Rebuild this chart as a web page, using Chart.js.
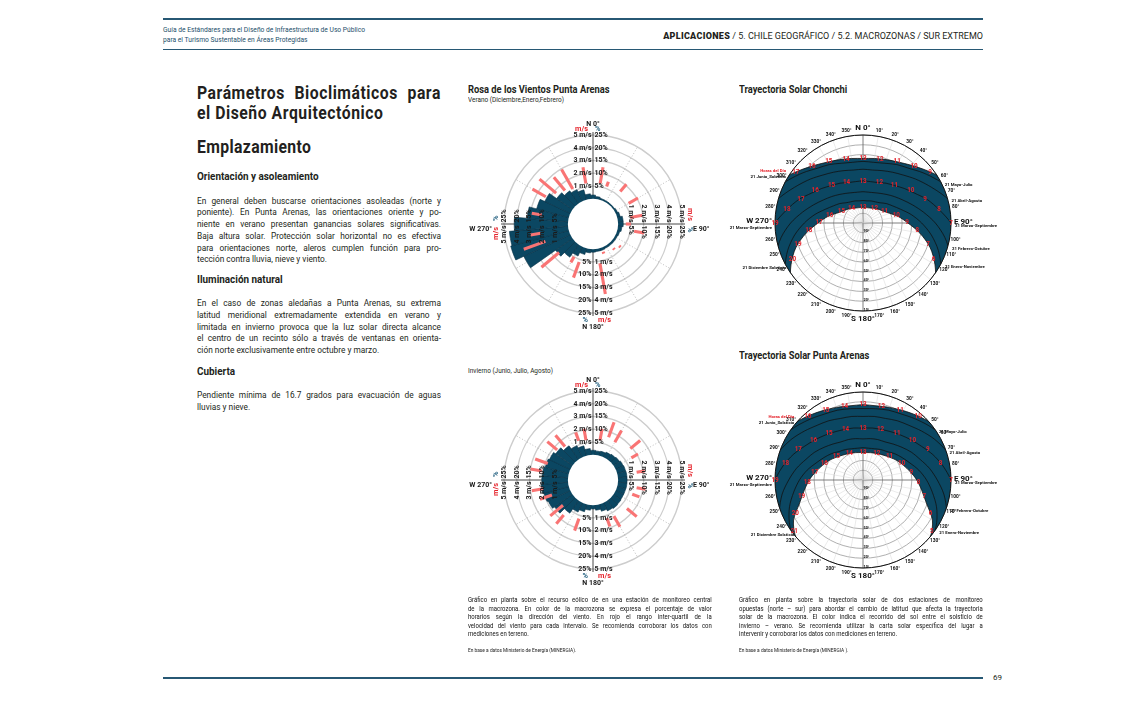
<!DOCTYPE html>
<html lang="es"><head><meta charset="utf-8">
<title>Parámetros Bioclimáticos - Sur Extremo</title>
<script src="https://cdn.jsdelivr.net/npm/chart.js@4.4.1/dist/chart.umd.min.js"></script>
<style>
body{margin:0;background:#fff;}
#page{position:relative;width:1133px;height:720px;overflow:hidden;font-family:Roboto,"Open Sans",sans-serif;color:#231f20;}
.rule{position:absolute;left:163px;width:820px;height:1.5px;background:#275874;}
.a{position:absolute;white-space:nowrap;}
.lc{position:absolute;left:197px;width:287px;transform:scaleX(0.85);transform-origin:0 0;}
.cap{position:absolute;width:277px;transform:scaleX(0.88);transform-origin:0 0;font-size:6.8px;line-height:8.6px;color:#111;}
.j div{text-align:justify;text-align-last:justify;}
.j div.l{text-align-last:left;}
.h{font-weight:700;}
.sp{display:flex;justify-content:space-between;white-space:nowrap;}
canvas{position:absolute;}
</style></head><body><div id="page">

<div class="rule" style="top:18px"></div>
<div class="rule" style="top:48.5px;height:1px"></div>
<div class="rule" style="top:677px"></div>

<div class="a" style="left:163px;top:26px;font-size:6.7px;line-height:9.5px;color:#244f6b;">Guía de Estándares para el Diseño de Infraestructura de Uso Público<br>para el Turismo Sustentable en Áreas Protegidas</div>
<div class="a" style="right:150px;top:31px;font-size:9px;line-height:10px;color:#231f20;"><b style="font-weight:900;letter-spacing:0.3px">APLICACIONES</b> / 5. CHILE GEOGRÁFICO / 5.2. MACROZONAS / SUR EXTREMO</div>
<div class="a" style="left:993px;top:673px;font-size:8px;color:#231f20;">69</div>

<!-- left column -->
<div class="a h" style="left:197px;top:83px;width:271px;font-size:17.5px;line-height:20px;letter-spacing:0.6px;transform:scaleX(0.9);transform-origin:0 0;">
  <div class="sp"><span>Parámetros</span><span>Bioclimáticos</span><span>para</span></div>
  <div>el Diseño Arquitectónico</div>
</div>
<div class="a h" style="left:197px;top:137px;font-size:17.5px;line-height:20px;letter-spacing:0.4px;transform:scaleX(0.9);transform-origin:0 0;">Emplazamiento</div>
<div class="a h" style="left:197px;top:170px;font-size:11px;line-height:14px;transform:scaleX(0.9);transform-origin:0 0;">Orientación y asoleamiento</div>
<div class="lc j" style="top:194.5px;font-size:9.8px;line-height:11.8px;">
  <div>En general deben buscarse orientaciones asoleadas (norte y</div>
  <div>poniente). En Punta Arenas, las orientaciones oriente y po-</div>
  <div>niente en verano presentan ganancias solares significativas.</div>
  <div>Baja altura solar. Protección solar horizontal no es efectiva</div>
  <div>para orientaciones norte, aleros cumplen función para pro-</div>
  <div class="l">tección contra lluvia, nieve y viento.</div>
</div>
<div class="a h" style="left:197px;top:273px;font-size:11px;line-height:14px;transform:scaleX(0.9);transform-origin:0 0;">Iluminación natural</div>
<div class="lc j" style="top:297px;font-size:9.8px;line-height:11.8px;">
  <div>En el caso de zonas aledañas a Punta Arenas, su extrema</div>
  <div>latitud meridional extremadamente extendida en verano y</div>
  <div>limitada en invierno provoca que la luz solar directa alcance</div>
  <div>el centro de un recinto sólo a través de ventanas en orienta-</div>
  <div class="l">ción norte exclusivamente entre octubre y marzo.</div>
</div>
<div class="a h" style="left:197px;top:365px;font-size:11px;line-height:14px;transform:scaleX(0.9);transform-origin:0 0;">Cubierta</div>
<div class="lc j" style="top:389px;font-size:9.8px;line-height:11.8px;">
  <div>Pendiente mínima de 16.7 grados para evacuación de aguas</div>
  <div class="l">lluvias y nieve.</div>
</div>

<!-- chart titles -->
<div class="a h" style="left:468px;top:84px;font-size:10.6px;line-height:12px;transform:scaleX(0.88);transform-origin:0 0;">Rosa de los Vientos Punta Arenas</div>
<div class="a" style="left:468px;top:96px;font-size:7px;line-height:8px;transform:scaleX(0.92);transform-origin:0 0;">Verano (Diciembre,Enero,Febrero)</div>
<div class="a" style="left:468px;top:367px;font-size:7px;line-height:8px;transform:scaleX(0.92);transform-origin:0 0;">Invierno (Junio, Julio, Agosto)</div>
<div class="a h" style="left:739px;top:84px;font-size:10.6px;line-height:12px;transform:scaleX(0.88);transform-origin:0 0;">Trayectoria Solar Chonchi</div>
<div class="a h" style="left:739px;top:350px;font-size:10.6px;line-height:12px;transform:scaleX(0.88);transform-origin:0 0;">Trayectoria Solar Punta Arenas</div>

<canvas id="roseSummer" width="280" height="250" style="left:453px;top:99px"></canvas>
<canvas id="roseWinter" width="280" height="250" style="left:453px;top:355px"></canvas>
<canvas id="sunChonchi" width="270" height="240" style="left:728px;top:103px"></canvas>
<canvas id="sunPunta" width="270" height="240" style="left:728px;top:360px"></canvas>

<!-- captions -->
<div class="cap j" style="left:468px;top:596px;">
  <div>Gráfico en planta sobre el recurso eólico de en una estación de monitoreo central</div>
  <div>de la macrozona. En color de la macrozona se expresa el porcentaje de valor</div>
  <div>horarios según la dirección del viento. En rojo el rango inter-quartil de la</div>
  <div>velocidad del viento para cada intervalo. Se recomienda corroborar los datos con</div>
  <div class="l">mediciones en terreno.</div>
</div>
<div class="a" style="left:468px;top:648px;font-size:4.8px;line-height:6px;color:#222;">En base a datos Ministerio de Energía (MINERGIA).</div>
<div class="cap j" style="left:739px;top:596px;">
  <div>Gráfico en planta sobre la trayectoria solar de dos estaciones de monitoreo</div>
  <div>opuestas (norte – sur) para abordar el cambio de latitud que afecta la trayectoria</div>
  <div>solar de la macrozona. El color indica el recorrido del sol entre el solsticio de</div>
  <div>invierno – verano. Se recomienda utilizar la carta solar específica del lugar a</div>
  <div class="l">intervenir y corroborar los datos con mediciones en terreno.</div>
</div>
<div class="a" style="left:739px;top:648px;font-size:4.8px;line-height:6px;color:#222;">En base a datos Ministerio de Energía (MINERGIA ).</div>
</div>

<script>
const DARK = "#0b4762";
const RED = "#e5232b";
const RED_BAR = "#f97474";
const BLUE_TXT = "#1c5b7c";
const INK = "#1a1a1a";

// ---- wind roses (directions in degrees from north) ----
const windDirs = [0,10,20,30,40,50,60,70,80,90,100,110,120,130,140,150,160,170,180,190,200,210,220,230,240,250,260,270,280,290,300,310,320,330,340,350];
// % of hours per direction
const summerPct = [1.5,1.0,0.6,0.5,0.5,0.5,0.8,1.2,2.0,2.0,1.5,1.0,0.8,0.8,0.8,0.8,1.0,1.0,1.2,1.5,2.5,4.0,6.0,8.0,20,23.5,23,21,16,13,11,7.5,6,5,4,2];
const winterPct = [1.8,1.6,1.8,2.2,2.5,2.8,3.2,3.4,3.5,3.5,3.5,3.4,3.4,3.6,3.8,3.5,2.8,2.0,1.5,2.0,3.0,4.0,6.0,8.5,9.5,10,10.5,10.2,10,9.5,9,8,6.5,5,4,2.5];
// inter-quartile wind speed range (m/s)
const summerQ1 = [null,1.25,1.15,null,1.35,null,1.25,null,1.0,0.6,1.3,null,null,0.7,0.5,null,0.35,1.15,null,null,1.2,1.0,null,1.5,null,2.0,2.2,null,2.1,null,2.3,1.8,1.45,1.2,null,1.25];
const summerQ3 = [null,2.55,1.55,null,2.1,null,2.1,null,1.95,1.0,2.1,null,null,0.85,0.65,null,0.5,3.6,null,null,2.5,1.5,null,3.3,null,3.8,3.0,null,2.9,null,3.5,3.5,2.8,2.95,null,2.55];
const winterQ1 = [null,1.2,1.6,1.45,null,1.85,1.5,null,1.5,null,1.5,1.3,null,1.5,null,1.3,1.2,null,null,null,1.25,null,1.6,1.1,null,1.45,2.0,null,2.1,1.8,null,1.7,1.45,null,1.3,1.2];
const winterQ3 = [null,2.1,2.85,2.5,null,2.85,2.1,null,2.15,null,2.2,1.9,null,2.5,null,2.25,1.9,null,null,null,2.25,null,2.5,2.4,null,2.45,2.9,null,3.0,2.85,null,2.7,2.6,null,2.0,2.1];
const ringPct = [0,5,10,15,20,25];
const ringSpeed = [0,1,2,3,4,5];
const PCT_PER_MS = 5;
const dottedDirs = [30,60,120,150,210,240,300,330];

// ---- sun paths: zenith distance (deg) per azimuth, azimuth order of the radial axis ----
const azLabels = [180,190,200,210,220,230,240,250,260,270,280,290,300,310,320,330,340,350,0,10,20,30,40,50,60,70,80,90,100,110,120,130,140,150,160,170];
const dateNames = ["21 Junio_Solsticio","21 Mayo-Julio","21 Abril-Agosto","21 Marzo-Septiembre","21 Febrero-Octubre","21 Enero-Noviembre","21 Diciembre Solsticio"];
const altLabels = [90,80,70,60,50,40,30,20,10];

const chJun    = [161,161,160,159,157,154,150,144,136,126,115,103,93,84,77,72,69,67,66,67,69,72,77,84,93,103,115,126,136,144,150,154,157,159,160,161];
const chMayJul = [158,157,157,155,153,150,145,139,131,121,109,98,88,80,73,69,65,63,63,63,65,69,73,80,88,98,109,121,131,139,145,150,153,155,157,157];
const chAprAug = [149,149,148,146,143,140,134,127,118,108,97,86,77,70,64,60,57,55,55,55,57,60,64,70,77,86,97,108,118,127,134,140,143,146,148,149];
const chMarSep = [137,137,136,133,130,125,119,110,101,90,79,70,61,55,50,47,44,43,43,43,44,47,50,55,61,70,79,90,101,110,119,125,130,133,136,137];
const chFebOct = [126,126,124,121,117,112,104,95,85,74,63,54,47,42,38,35,33,32,32,32,33,35,38,42,47,54,63,74,85,95,104,112,117,121,124,126];
const chJanNov = [117,117,115,112,107,100,92,82,71,60,50,41,35,31,27,25,24,23,23,23,24,25,27,31,35,41,50,60,71,82,92,100,107,112,115,117];
const chDec    = [114,113,111,108,103,96,85,73,59,46,37,29,24,21.5,19.5,17.5,16.5,16,16,16,16.5,17.5,19.5,21.5,24,29,37,46,59,73,85,96,103,108,111,113];

const paJun    = [150,150,149,148,145,142,138,133,127,120,112,104,97,91,86,82,79,77,77,77,79,82,86,91,97,104,112,120,127,133,138,142,145,148,149,150];
const paMayJul = [147,147,146,144,142,139,134,129,123,116,108,100,93,87,82,78,76,74,73,74,76,78,82,87,93,100,108,116,123,129,134,139,142,144,146,147];
const paAprAug = [139,138,137,136,133,129,125,119,112,105,98,90,84,78,73,70,67,66,65,66,67,70,73,78,84,90,98,105,112,119,125,129,133,136,137,138];
const paMarSep = [127,126,125,123,120,116,111,104,97,90,83,76,69,64,60,57,55,54,53,54,55,57,60,64,69,76,83,90,97,104,111,116,120,123,125,126];
const paFebOct = [116,115,114,111,108,103,98,91,84,76,69,62,57,52,48,45,44,43,42,43,44,45,48,52,57,62,69,76,84,91,98,103,108,111,114,115];
const paJanNov = [107,106,105,102,98,93,87,80,72,65,58,51,46,42,38,36,34,33,33,33,34,36,38,42,46,51,58,65,72,80,87,93,98,102,105,106];
const paDec    = [103,103,101,98,94,90,82,69,61,55,49,44,40,36,33,31,29.5,28.5,28,28.5,29.5,31,33,36,40,44,49,55,61,69,82,90,94,98,101,103];

// sunrise azimuth per date (Jun ... Dec)
const chRise = [57.3,62.0,73.6,90.0,105.0,117.7,122.7];
const paRise = [48.4,54.8,69.7,90.0,108.6,124.8,131.6];

// hour marks: [hour, azimuth, zenith]
const chHoursJun = [[9,53,86],[10,42,78],[11,29,72],[12,15,67],[13,0,66],[14,345,67],[15,331,72],[16,318,78],[17,307,86]];
const chHoursEqu = [[7,90,90],[8,80,79],[9,69,68],[10,56,59],[11,40,50],[12,22,45],[13,0,43],[14,338,45],[15,320,50],[16,304,59],[17,291,68],[18,280,79],[19,270,90]];
const chHoursDec = [[6,117,81],[7,108,70],[8,98,56],[9,89,45],[10,77,35],[11,62,25],[12,38,19],[13,0,16],[14,322,19],[15,298,25],[16,283,35],[17,271,45],[18,262,56],[19,252,70],[20,243,81]];
const paHoursJun = [[10,41,86],[11,28,81],[12,14,78],[13,0,77],[14,346,78],[15,332,81],[16,319,86]];
const paHoursEqu = [[7,90,90],[8,78,81],[9,65,73],[10,51,65],[11,36,59],[12,19,55],[13,0,53],[14,341,55],[15,324,59],[16,309,65],[17,295,73],[18,282,81],[19,270,90]];
const paHoursDec = [[5,127,88],[6,116,77],[7,105,65],[8,93,57],[9,81,50],[10,67,43],[11,49,36],[12,27,31],[13,0,28],[14,333,31],[15,311,36],[16,293,43],[17,279,50],[18,267,57],[19,255,65],[20,244,77],[21,233,88]];

// ---------------- wind rose ----------------
function roseDecor(q1, q3){
  return {
    id: "roseDecor",
    beforeDatasetsDraw(chart){
      const s = chart.scales.r, ctx = chart.ctx, cx = s.xCenter, cy = s.yCenter, R = s.drawingArea;
      ctx.save();
      ctx.strokeStyle = "#a0a0a0"; ctx.lineWidth = 0.7; ctx.setLineDash([1,2]);
      dottedDirs.forEach(d => {
        const p = s.getPointPosition(d/10 + 0.5, R);
        ctx.beginPath(); ctx.moveTo(cx, cy); ctx.lineTo(p.x, p.y); ctx.stroke();
      });
      ctx.setLineDash([]);
      ctx.strokeStyle = INK; ctx.lineWidth = 0.8;
      ctx.beginPath();
      ctx.moveTo(cx, cy-R-3); ctx.lineTo(cx, cy+R+3);
      ctx.moveTo(cx-R-3, cy); ctx.lineTo(cx+R+3, cy);
      ctx.stroke();
      ctx.restore();
    },
    afterDatasetsDraw(chart){
      const s = chart.scales.r, ctx = chart.ctx, cx = s.xCenter, cy = s.yCenter;
      const R = s.getDistanceFromCenterForValue(25);
      ctx.save();
      // hole
      ctx.fillStyle = "#fff";
      ctx.beginPath(); ctx.arc(cx, cy, s.getDistanceFromCenterForValue(0), 0, Math.PI*2); ctx.fill();
      // inter-quartile bars
      ctx.strokeStyle = RED_BAR; ctx.lineWidth = 3.1; ctx.lineCap = "butt";
      windDirs.forEach((d, i) => {
        if (q1[i] == null) return;
        const a = s.getPointPosition(d/10 + 0.5, s.getDistanceFromCenterForValue(q1[i]*PCT_PER_MS));
        const b = s.getPointPosition(d/10 + 0.5, s.getDistanceFromCenterForValue(q3[i]*PCT_PER_MS));
        ctx.beginPath(); ctx.moveTo(a.x, a.y); ctx.lineTo(b.x, b.y); ctx.stroke();
      });
      // ring labels on the four axes
      ctx.fillStyle = INK; ctx.font = "700 7px Roboto"; ctx.textBaseline = "middle";
      ringPct.forEach((p, k) => {
        if (k === 0) return;
        const d = s.getDistanceFromCenterForValue(p);
        const ms = ringSpeed[k] + " m/s", pc = p + "%";
        ctx.textAlign = "right"; ctx.fillText(ms, cx-1.5, cy-d);
        ctx.textAlign = "left";  ctx.fillText(pc, cx+1.5, cy-d);
        ctx.textAlign = "right"; ctx.fillText(pc, cx-1.5, cy+d);
        ctx.textAlign = "left";  ctx.fillText(ms, cx+1.5, cy+d);
        ctx.save(); ctx.translate(cx+d, cy); ctx.rotate(Math.PI/2);
        ctx.textAlign = "right"; ctx.fillText(ms, -1.5, 0);
        ctx.textAlign = "left";  ctx.fillText(pc, 1.5, 0);
        ctx.restore();
        ctx.save(); ctx.translate(cx-d, cy); ctx.rotate(-Math.PI/2);
        ctx.textAlign = "right"; ctx.fillText(ms, -1.5, 0);
        ctx.textAlign = "left";  ctx.fillText(pc, 1.5, 0);
        ctx.restore();
      });
      // unit keys + cardinal names
      ctx.font = "700 7.4px Roboto";
      ctx.fillStyle = RED;  ctx.textAlign = "right"; ctx.fillText("m/s", cx-5, cy-R-6);
      ctx.fillStyle = BLUE_TXT; ctx.textAlign = "left"; ctx.fillText("%", cx+2, cy-R-6);
      ctx.fillStyle = BLUE_TXT; ctx.textAlign = "right"; ctx.fillText("%", cx-5, cy+R+7);
      ctx.fillStyle = RED;  ctx.textAlign = "left"; ctx.fillText("m/s", cx+5, cy+R+7);
      ctx.save(); ctx.translate(cx+R+8, cy); ctx.rotate(Math.PI/2);
      ctx.fillStyle = RED; ctx.textAlign = "right"; ctx.fillText("m/s", -3, 0);
      ctx.fillStyle = BLUE_TXT; ctx.textAlign = "left"; ctx.fillText("%", 3, 0);
      ctx.restore();
      ctx.save(); ctx.translate(cx-R-8, cy); ctx.rotate(-Math.PI/2);
      ctx.fillStyle = RED; ctx.textAlign = "right"; ctx.fillText("m/s", -3, 0);
      ctx.fillStyle = BLUE_TXT; ctx.textAlign = "left"; ctx.fillText("%", 3, 0);
      ctx.restore();
      ctx.fillStyle = INK; ctx.font = "700 7px Roboto";
      ctx.textAlign = "center";
      ctx.fillText("N 0°", cx, cy-R-11);
      ctx.fillText("N 180°", cx, cy+R+14);
      ctx.textAlign = "left";  ctx.fillText("E 90°", cx+R+11, cy+5);
      ctx.textAlign = "right"; ctx.fillText("W 270°", cx-R-12, cy+5);
      ctx.restore();
    }
  };
}

function windRose(id, pct, q1, q3){
  return new Chart(document.getElementById(id), {
    type: "polarArea",
    data: {
      labels: windDirs.map(d => d + "°"),
      datasets: [{ data: pct, backgroundColor: DARK, borderColor: "#063146", borderWidth: 0.6 }]
    },
    options: {
      responsive: false, animation: false, events: [], devicePixelRatio: 1,
      layout: { padding: { left: 51, right: 51, top: 36, bottom: 36 } },
      plugins: { legend: { display: false }, tooltip: { enabled: false } },
      scales: { r: {
        min: -9.84, max: 25, startAngle: -5,
        afterBuildTicks: sc => { sc.ticks = ringPct.map(v => ({ value: v })); },
        ticks: { display: false },
        grid: { color: "#cdcdcd", lineWidth: 1.4 },
        angleLines: { display: false },
        pointLabels: { display: false }
      } }
    },
    plugins: [roseDecor(q1, q3)]
  });
}

// ---------------- sun path diagram ----------------
function azPos(s, az, zen){
  return s.getPointPosition(((az - 180 + 360) % 360) / 10, s.getDistanceFromCenterForValue(zen));
}

function sunDecor(rise, hourSets){
  return {
    id: "sunDecor",
    beforeDatasetsDraw(chart){
      const s = chart.scales.r, ctx = chart.ctx;
      ctx.save();
      ctx.beginPath(); ctx.arc(s.xCenter, s.yCenter, s.drawingArea, 0, Math.PI*2); ctx.clip();
    },
    afterDatasetsDraw(chart){
      const s = chart.scales.r, ctx = chart.ctx;
      ctx.restore();
      const cx = s.xCenter, cy = s.yCenter, R = s.drawingArea;
      ctx.save();
      ctx.strokeStyle = "#111"; ctx.lineWidth = 1;
      ctx.beginPath(); ctx.arc(cx, cy, R, 0, Math.PI*2); ctx.stroke();

      ctx.fillStyle = "#111"; ctx.textAlign = "center"; ctx.textBaseline = "middle";
      ctx.font = "700 4.8px Roboto";
      azLabels.forEach((az, i) => {
        if (az % 90 === 0) return;
        const p = s.getPointPosition(i, R + 6);
        ctx.fillText(az + "°", p.x, p.y);
      });
      ctx.font = "700 8px Roboto";
      ctx.fillText("N 0°", cx, cy-R-7);
      ctx.fillText("S 180°", cx, cy+R+8);
      ctx.textAlign = "left";  ctx.fillText("E 90°", cx+R+3, cy-1);
      ctx.textAlign = "right"; ctx.fillText("W 270°", cx-R-3, cy-2);

      ctx.font = "700 3.8px Roboto"; ctx.textAlign = "left";
      altLabels.forEach(a => {
        const p = azPos(s, 180, 100 - a - 1.3);
        ctx.fillText(a + "°", p.x + 0.5, p.y);
      });

      ctx.font = "700 6.3px Roboto"; ctx.fillStyle = RED; ctx.textAlign = "center";
      hourSets.forEach(set => set.forEach(([h, az, z]) => {
        const p = azPos(s, az, z);
        ctx.fillText(String(h), p.x, p.y);
      }));

      ctx.font = "700 4.3px Roboto"; ctx.fillStyle = "#111"; ctx.textAlign = "left";
      [1,2,3,4,5].forEach(k => {
        const p = azPos(s, rise[k], 90);
        ctx.fillText(dateNames[k], p.x + 4, p.y + 3);
      });
      ctx.textAlign = "right";
      let p = azPos(s, 360 - rise[0], 90);
      ctx.fillText(dateNames[0], p.x - 3, p.y + 1);
      ctx.fillStyle = RED; ctx.fillText("Horas del Día", p.x - 3, p.y - 5);
      ctx.fillStyle = "#111";
      p = azPos(s, 270, 90);
      ctx.fillText(dateNames[3], p.x - 3, p.y + 5);
      p = azPos(s, 360 - rise[6], 90);
      ctx.fillText(dateNames[6], p.x - 3, p.y - 3);
      ctx.restore();
    }
  };
}

function sunChart(id, byDate, rise, hourSets){
  // draw order: Dec first ... Jun last, Jun fills down to Dec
  const order = [6,5,4,3,2,1,0];
  return new Chart(document.getElementById(id), {
    type: "radar",
    data: {
      labels: azLabels.map(a => a + "°"),
      datasets: order.map((k, i) => ({
        label: dateNames[k], data: byDate[k],
        borderColor: "#111", borderWidth: 0.8, pointRadius: 0,
        backgroundColor: DARK, fill: i === order.length - 1 ? 0 : false
      }))
    },
    options: {
      responsive: false, animation: false, events: [], devicePixelRatio: 1,
      layout: { padding: { left: 47, right: 47, top: 32, bottom: 32 } },
      plugins: { legend: { display: false }, tooltip: { enabled: false } },
      elements: { line: { tension: 0.3, capBezierPoints: false } },
      scales: { r: {
        min: 0, max: 90, startAngle: 180,
        ticks: { display: false, stepSize: 10 },
        pointLabels: { display: false },
        grid: { circular: true, color: "#9b9b9b", lineWidth: 0.8 },
        angleLines: {
          color: c => c.index % 9 === 0 ? "#6f6f6f" : "#d6d6d6",
          lineWidth: c => c.index % 9 === 0 ? 0.9 : 0.5
        }
      } }
    },
    plugins: [sunDecor(rise, hourSets)]
  });
}

windRose("roseSummer", summerPct, summerQ1, summerQ3);
windRose("roseWinter", winterPct, winterQ1, winterQ3);
sunChart("sunChonchi", [chJun, chMayJul, chAprAug, chMarSep, chFebOct, chJanNov, chDec], chRise, [chHoursJun, chHoursEqu, chHoursDec]);
sunChart("sunPunta", [paJun, paMayJul, paAprAug, paMarSep, paFebOct, paJanNov, paDec], paRise, [paHoursJun, paHoursEqu, paHoursDec]);
</script>
</body></html>
